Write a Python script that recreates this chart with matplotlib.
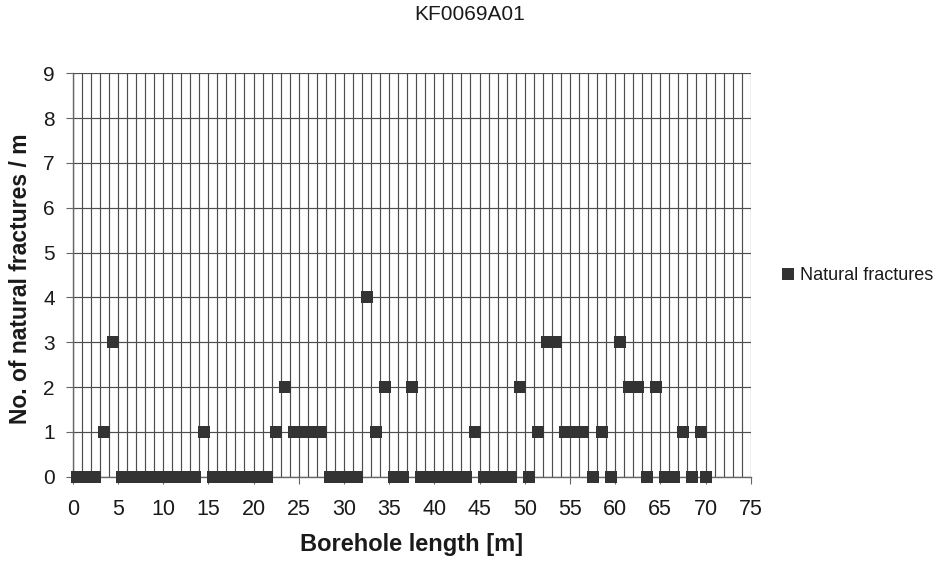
import matplotlib
matplotlib.use("Agg")
import matplotlib.pyplot as plt
from matplotlib.ticker import MultipleLocator

plt.rcParams['font.family'] = ['Liberation Sans', 'DejaVu Sans']

title = "KF0069A01"
series_name = "Natural fractures"
x_label = "Borehole length [m]"
y_label = "No. of natural fractures / m"

# Centre of each 1 m borehole section [m]
section_mid = [
    0.5, 1.5, 2.5, 3.5, 4.5, 5.5, 6.5, 7.5, 8.5, 9.5,
    10.5, 11.5, 12.5, 13.5, 14.5, 15.5, 16.5, 17.5, 18.5, 19.5,
    20.5, 21.5, 22.5, 23.5, 24.5, 25.5, 26.5, 27.5, 28.5, 29.5,
    30.5, 31.5, 32.5, 33.5, 34.5, 35.5, 36.5, 37.5, 38.5, 39.5,
    40.5, 41.5, 42.5, 43.5, 44.5, 45.5, 46.5, 47.5, 48.5, 49.5,
    50.5, 51.5, 52.5, 53.5, 54.5, 55.5, 56.5, 57.5, 58.5, 59.5,
    60.5, 61.5, 62.5, 63.5, 64.5, 65.5, 66.5, 67.5, 68.5, 69.5,
    70.0,
]

# Natural fractures counted in each section
fracture_count = [
    0, 0, 0, 1, 3, 0, 0, 0, 0, 0,
    0, 0, 0, 0, 1, 0, 0, 0, 0, 0,
    0, 0, 1, 2, 1, 1, 1, 1, 0, 0,
    0, 0, 4, 1, 2, 0, 0, 2, 0, 0,
    0, 0, 0, 0, 1, 0, 0, 0, 0, 2,
    0, 1, 3, 3, 1, 1, 1, 0, 1, 0,
    3, 2, 2, 0, 2, 0, 0, 1, 0, 1,
    0,
]

x_ticks = [0, 5, 10, 15, 20, 25, 30, 35, 40, 45, 50, 55, 60, 65, 70, 75]
y_ticks = [0, 1, 2, 3, 4, 5, 6, 7, 8, 9]

W, H = 939, 563
fig = plt.figure(figsize=(W / 100, H / 100), dpi=100)
fig.patch.set_facecolor("white")

left, right, top, bottom = 72.7, 750.7, 73.3, 476.7
ax = fig.add_axes([left / W, 1 - bottom / H, (right - left) / W, (bottom - top) / H])

ax.set_xlim(0, 75)
ax.set_ylim(0, 9)
ax.set_xticks(x_ticks)
ax.set_yticks(y_ticks)
ax.xaxis.set_minor_locator(MultipleLocator(1))

grid_col = "#4d4d4d"
ax.grid(True, which="both", axis="x", color=grid_col, lw=0.85)
ax.grid(True, which="major", axis="y", color=grid_col, lw=0.85)
ax.set_axisbelow(True)

for side in ("top", "right"):
    ax.spines[side].set_visible(False)
for side in ("left", "bottom"):
    ax.spines[side].set_color("#666666")
    ax.spines[side].set_linewidth(1.0)

ax.tick_params(axis="both", which="major", direction="out", length=5,
               width=0.8, color="#666666", labelcolor="#1a1a1a")
ax.tick_params(axis="x", which="major", pad=11, labelsize=15.5)
ax.tick_params(axis="y", which="major", pad=8, labelsize=15)
ax.tick_params(axis="x", which="minor", length=0)

ax.plot(section_mid, fracture_count, linestyle="none", marker="s",
        markersize=8.2, markerfacecolor="#333333", markeredgewidth=0,
        color="#333333", clip_on=False, zorder=3, label=series_name)

fig.text(469.5 / W, 1 - 14 / H, title, ha="center", va="center",
         fontsize=15, color="#1a1a1a")
fig.text((left + right) / 2 / W, 1 - 545 / H, x_label, ha="center",
         va="center", fontsize=17, fontweight="bold", color="#1a1a1a")
fig.text(21 / W, 1 - 279 / H, y_label, ha="center", va="center",
         rotation=90, fontsize=16.5, fontweight="bold", color="#1a1a1a")

fig.legend(loc="center left", bbox_to_anchor=(781.5 / W, 1 - 276 / H),
           frameon=False, borderpad=0, borderaxespad=0, handlelength=0.7,
           handletextpad=0.3, fontsize=13, labelcolor="#1a1a1a")

fig.savefig("out.png", dpi=100, facecolor="white")
